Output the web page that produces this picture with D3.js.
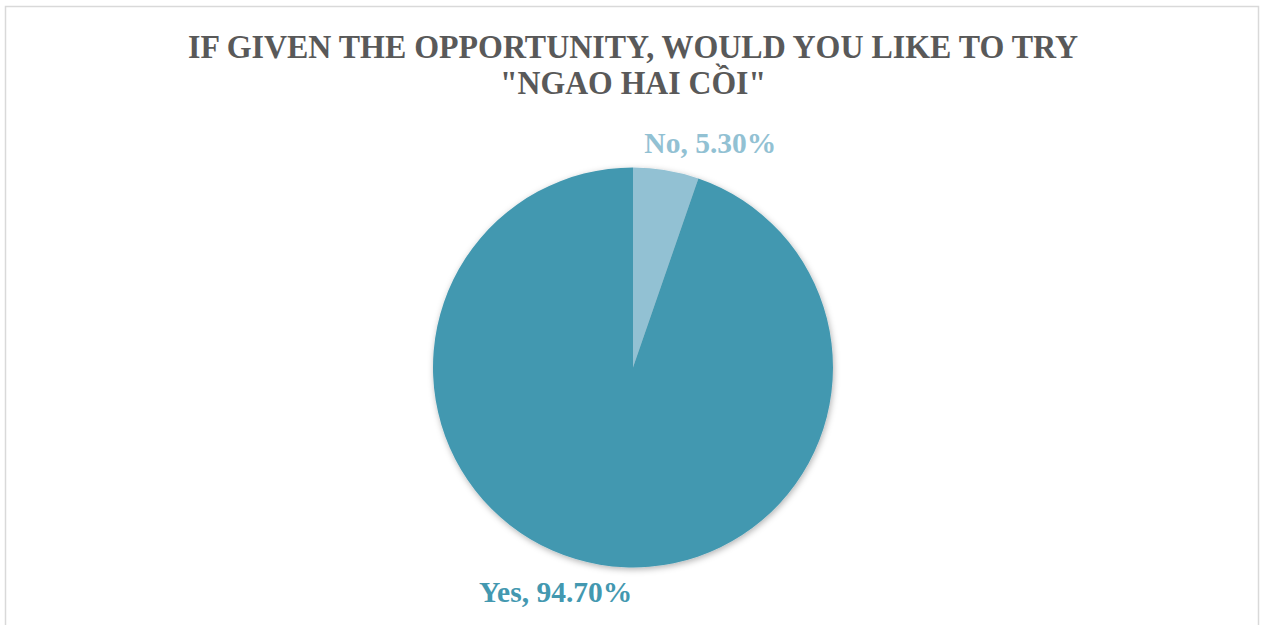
<!DOCTYPE html>
<html>
<head>
<meta charset="utf-8">
<script src="https://cdn.jsdelivr.net/npm/d3@7"></script>
<style>
  html, body { margin: 0; padding: 0; background: #fff; }
  svg { display: block; }
</style>
</head>
<body>
<svg id="chart" width="1261" height="625"></svg>
<script>
// Survey answers and their shares (percent)
const categories = ["No", "Yes"];
const shares = [5.30, 94.70];
const sliceColors = ["#92c1d3", "#4398b0"];
const titleLines = ["IF GIVEN THE OPPORTUNITY, WOULD YOU LIKE TO TRY", "\"NGAO HAI CỒI\""];

const W = 1261, H = 625;
const svg = d3.select("#chart");

// chart frame
svg.append("rect")
  .attr("x", 5.5).attr("y", 6.5)
  .attr("width", 1253).attr("height", 640)
  .attr("fill", "#fff")
  .attr("stroke", "#d9d9d9").attr("stroke-width", 1.5);

// soft shadow under the pie
const defs = svg.append("defs");
const f = defs.append("filter").attr("id", "pieShadow")
  .attr("x", "-20%").attr("y", "-20%").attr("width", "140%").attr("height", "140%");
f.append("feDropShadow")
  .attr("dx", 1).attr("dy", 2).attr("stdDeviation", 3)
  .attr("flood-color", "#000").attr("flood-opacity", 0.3);

// title
const title = svg.append("text")
  .attr("text-anchor", "middle")
  .attr("font-family", "'Liberation Serif', 'Times New Roman', serif")
  .attr("font-weight", "bold")
  .attr("font-size", 33)
  .attr("fill", "#595959");
const titleWidths = [890, 266];
titleLines.forEach((t, i) => {
  title.append("tspan")
    .attr("x", 633)
    .attr("y", 58 + i * 35.5)
    .attr("textLength", titleWidths[i])
    .attr("lengthAdjust", "spacingAndGlyphs")
    .text(t);
});

// pie
const cx = 633, cy = 367.5, R = 200;
const data = categories.map((c, i) => ({ name: c, value: shares[i], color: sliceColors[i] }));
const pie = d3.pie().sort(null).value(d => d.value);
const arcs = pie(data);
const arc = d3.arc().innerRadius(0).outerRadius(R);

const g = svg.append("g").attr("transform", `translate(${cx},${cy})`);
g.append("g").attr("filter", "url(#pieShadow)")
  .selectAll("path").data(arcs).join("path")
  .attr("d", arc)
  .attr("fill", d => d.data.color);

// outside data labels
const labelR = 237;
const angleShift = 9.5 * Math.PI / 180;
g.selectAll("text.lbl").data(arcs).join("text")
  .attr("class", "lbl")
  .attr("text-anchor", "middle")
  .attr("dominant-baseline", "central")
  .attr("font-family", "'Liberation Serif', 'Times New Roman', serif")
  .attr("font-weight", "bold")
  .attr("font-size", 29.5)
  .attr("fill", d => d.data.color)
  .attr("x", d => {
    const a = (d.startAngle + d.endAngle) / 2 + angleShift;
    return labelR * Math.sin(a);
  })
  .attr("y", d => {
    const a = (d.startAngle + d.endAngle) / 2 + angleShift;
    return -labelR * Math.cos(a);
  })
  .text(d => `${d.data.name}, ${d.data.value.toFixed(2)}%`);
</script>
</body>
</html>
